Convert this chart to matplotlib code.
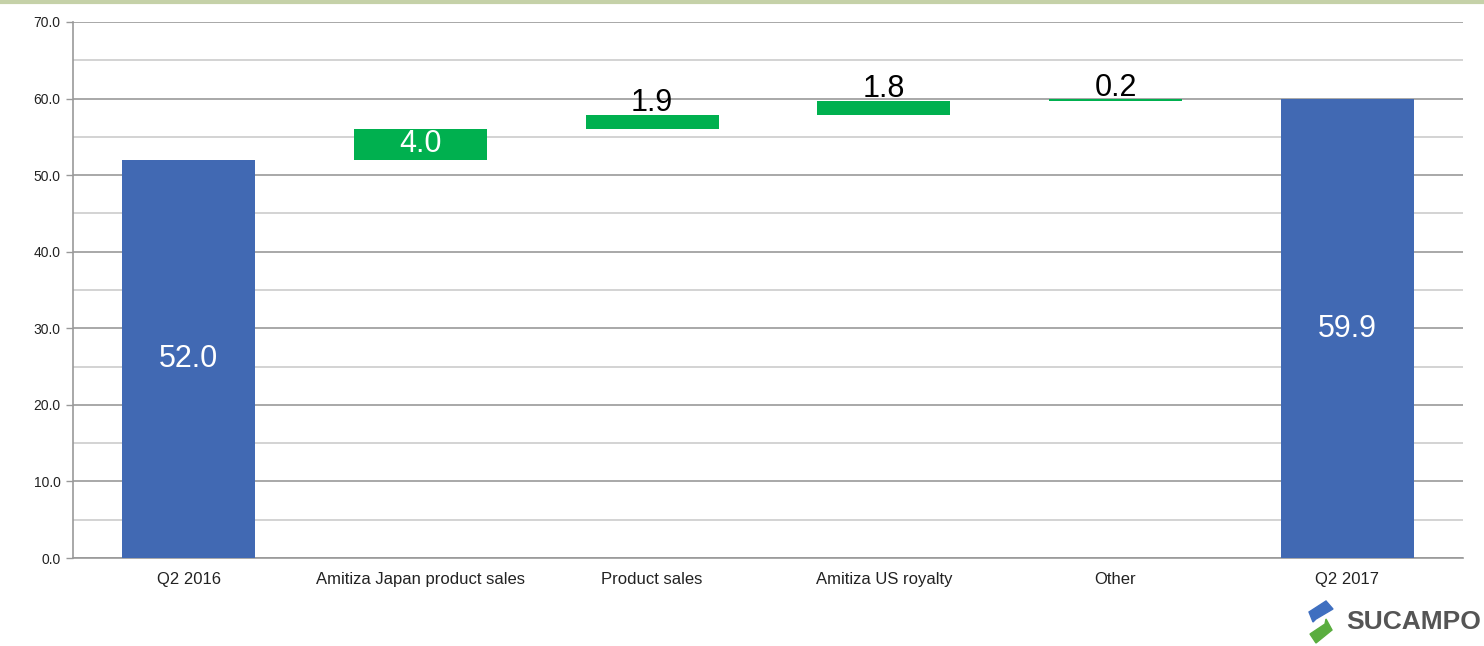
import matplotlib
matplotlib.use('Agg')
import matplotlib.pyplot as plt
from matplotlib.patches import Polygon
import numpy as np

plt.rcParams['font.family'] = ['Liberation Sans', 'DejaVu Sans']

categories = ['Q2 2016', 'Amitiza Japan product sales', 'Product sales',
              'Amitiza US royalty', 'Other', 'Q2 2017']
start_total = 52.0
deltas = [4.0, 1.9, 1.8, 0.2]
end_total = 59.9

BLUE = '#4169b3'
GREEN = '#00b04f'

W, H = 1484, 646
fig = plt.figure(figsize=(W / 100, H / 100), dpi=100)
ax = fig.add_axes([0.0492, 0.1362, 0.9366, 0.8298])

x = np.arange(len(categories))
w = 0.575

# totals
ax.bar(x[0], start_total, width=w, color=BLUE, zorder=3)
ax.bar(x[-1], end_total, width=w, color=BLUE, zorder=3)
for xi, v in [(x[0], start_total), (x[-1], end_total)]:
    ax.text(xi, v / 2, f'{v:.1f}', ha='center', va='center',
            color='white', fontsize=22, zorder=4)

# floating increments
base = start_total
for i, d in enumerate(deltas):
    ax.bar(x[i + 1], d, bottom=base, width=w, color=GREEN, zorder=3)
    if d >= 3:
        ax.text(x[i + 1], base + d / 2, f'{d:.1f}', ha='center', va='center',
                color='white', fontsize=22, zorder=4)
    else:
        ax.text(x[i + 1], base + d + 1.5, f'{d:.1f}', ha='center', va='center',
                color='black', fontsize=22, zorder=4)
    base += d

ax.set_xlim(-0.5, len(categories) - 0.5)
ax.set_ylim(0, 70)
ax.set_yticks(np.arange(0, 71, 10))
ax.set_yticklabels([f'{v:.1f}' for v in np.arange(0, 71, 10)], fontsize=10, color='#222222')
ax.set_yticks(np.arange(5, 70, 10), minor=True)
ax.set_xticks(x)
ax.set_xticklabels(categories, fontsize=12, color='#222222')
ax.tick_params(axis='x', length=0, pad=10)
ax.tick_params(axis='y', which='major', length=5, width=1, color='#999999', pad=4)
ax.tick_params(axis='y', which='minor', length=0)
ax.grid(axis='y', which='major', color='#9a9a9a', lw=1.2, zorder=0)
ax.grid(axis='y', which='minor', color='#cccccc', lw=1.2, zorder=0)
for s in ['top', 'right']:
    ax.spines[s].set_visible(False)
for s in ['left', 'bottom']:
    ax.spines[s].set_color('#999999')
    ax.spines[s].set_linewidth(1.2)

# thin olive rule across the top
fig.add_artist(plt.Line2D([0, 1], [0.997, 0.997], color='#c5d1a8', lw=3, transform=fig.transFigure))

# logo: two slanted tabs and the wordmark
def px(pts):
    return [[a / W, 1 - b / H] for a, b in pts]

fig.add_artist(Polygon(px([(1309, 612), (1326, 601), (1333, 609), (1316, 619), (1313, 622)]),
                       closed=True, color='#3f6fc0', transform=fig.transFigure))
fig.add_artist(Polygon(px([(1310, 634), (1325, 624), (1326, 619), (1332, 630), (1316, 643)]),
                       closed=True, color='#5aad3f', transform=fig.transFigure))
fig.text(1346 / W, 1 - 629 / H, 'SUCAMPO', fontsize=19, fontweight='bold',
         color='#555555', ha='left', va='baseline')

fig.savefig('out.png', dpi=100)
